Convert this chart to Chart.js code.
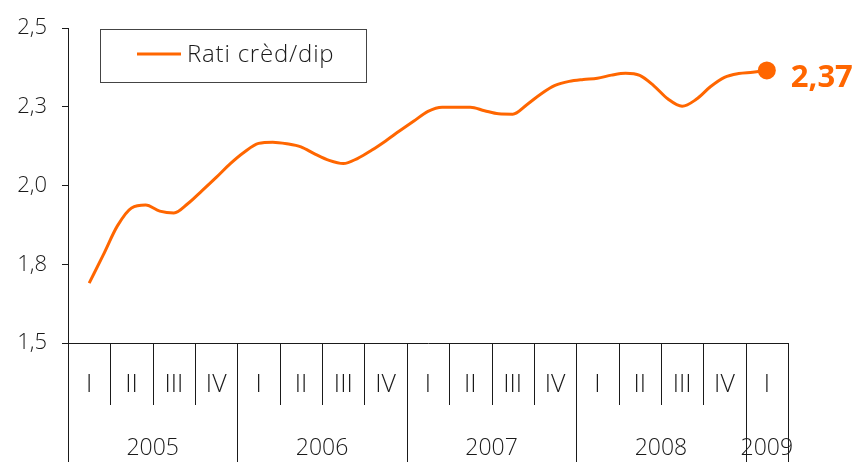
<!DOCTYPE html>
<html>
<head>
<meta charset="utf-8">
<script src="https://cdn.jsdelivr.net/npm/chart.js@4/dist/chart.umd.min.js"></script>
<style>
  html, body { margin: 0; padding: 0; background: #fff; }
  #wrap { width: 855px; height: 462px; position: relative; }
</style>
</head>
<body>
<div id="wrap"><canvas id="c" width="855" height="462"></canvas></div>
<script>
// ---- Data ----
const seriesLabel = 'Rati crèd/dip';
const quarterLabels = ['I','II','III','IV','I','II','III','IV','I','II','III','IV','I','II','III','IV','I'];
const yearLabels = ['2005','2006','2007','2008','2009'];
const yearQuarters = [4, 4, 4, 4, 1];
const firstMonth = 1; // Feb 2005 (month index from Jan 2005)
const ratio = [
  1.69, 1.78, 1.872, 1.929, 1.938, 1.919, 1.913, 1.943, 1.984, 2.026,
  2.070, 2.107, 2.134, 2.138, 2.133, 2.123, 2.100, 2.080, 2.070, 2.086,
  2.112, 2.142, 2.174, 2.205, 2.236, 2.249, 2.249, 2.249, 2.238, 2.228,
  2.227, 2.257, 2.291, 2.318, 2.331, 2.337, 2.341, 2.351, 2.357, 2.350,
  2.317, 2.275, 2.252, 2.274, 2.314, 2.344, 2.356, 2.360, 2.366
];
const yTicks = [1.5, 1.75, 2.0, 2.25, 2.5];

// ---- Styles ----
const ORANGE = '#FF6600';
const INK = '#1a1a1a';
const FONT = '"Open Sans", "Liberation Sans", sans-serif';
const totalMonths = quarterLabels.length * 3;

const points = ratio.map((v, i) => ({ x: firstMonth + i + 0.5, y: v }));
const lastIdx = ratio.length - 1;

const extras = {
  id: 'extras',
  afterDraw(chart) {
    const ctx = chart.ctx;
    const xs = chart.scales.x;
    const area = chart.chartArea;
    const H = chart.height;
    const base = area.bottom;
    ctx.save();
    ctx.strokeStyle = INK;
    ctx.lineWidth = 1;
    // x axis line
    ctx.beginPath();
    ctx.moveTo(Math.round(xs.getPixelForValue(0)) + 0.5, base + 0.5);
    ctx.lineTo(Math.round(xs.getPixelForValue(totalMonths)) + 0.5, base + 0.5);
    ctx.stroke();
    // quarter dividers & labels
    ctx.font = '300 25px ' + FONT;
    ctx.fillStyle = INK;
    ctx.textAlign = 'center';
    ctx.textBaseline = 'middle';
    for (let q = 0; q < quarterLabels.length; q++) {
      const x0 = xs.getPixelForValue(q * 3);
      const x1 = xs.getPixelForValue(q * 3 + 3);
      ctx.beginPath();
      ctx.moveTo(Math.round(x0) + 0.5, base);
      ctx.lineTo(Math.round(x0) + 0.5, base + 62);
      ctx.stroke();
      ctx.fillText(quarterLabels[q], (x0 + x1) / 2, base + 42);
    }
    // year dividers & labels
    ctx.font = '300 23px ' + FONT;
    let qStart = 0;
    for (let y = 0; y <= yearLabels.length; y++) {
      const xv = xs.getPixelForValue(qStart * 3);
      ctx.beginPath();
      ctx.moveTo(Math.round(xv) + 0.5, base);
      ctx.lineTo(Math.round(xv) + 0.5, H);
      ctx.stroke();
      if (y < yearLabels.length) {
        const xe = xs.getPixelForValue((qStart + yearQuarters[y]) * 3);
        ctx.fillText(yearLabels[y], (xv + xe) / 2, base + 105);
        qStart += yearQuarters[y];
      }
    }
    // legend box
    const lx = 100.5, ly = 29.5, lw = 266, lh = 53;
    ctx.strokeStyle = '#444';
    ctx.strokeRect(lx, ly, lw, lh);
    ctx.strokeStyle = ORANGE;
    ctx.lineWidth = 3;
    ctx.beginPath();
    ctx.moveTo(137, 54);
    ctx.lineTo(181, 54);
    ctx.stroke();
    ctx.fillStyle = INK;
    ctx.textAlign = 'left';
    ctx.font = '300 24px ' + FONT;
    ctx.letterSpacing = '0.8px';
    ctx.fillText(chart.data.datasets[0].label, 187, 55);
    ctx.letterSpacing = '0px';
    // data label on last point
    const meta = chart.getDatasetMeta(0);
    const pt = meta.data[lastIdx];
    ctx.fillStyle = ORANGE;
    ctx.font = 'bold 31px ' + FONT;
    ctx.textBaseline = 'middle';
    ctx.fillText(ratio[lastIdx].toFixed(2).replace('.', ','), pt.x + 24, pt.y + 8);
    ctx.restore();
  }
};

new Chart(document.getElementById('c'), {
  type: 'line',
  data: {
    datasets: [{
      label: seriesLabel,
      data: points,
      borderColor: ORANGE,
      backgroundColor: ORANGE,
      borderWidth: 3,
      cubicInterpolationMode: 'monotone',
      pointRadius: ctx => ctx.dataIndex === lastIdx ? 9 : 0,
      pointHoverRadius: 0,
      pointBackgroundColor: ORANGE,
      pointBorderWidth: 0,
      clip: false
    }]
  },
  options: {
    responsive: false,
    animation: false,
    devicePixelRatio: 1,
    layout: { padding: { left: 0, right: 67, top: 24, bottom: 119 } },
    plugins: { legend: { display: false }, tooltip: { enabled: false } },
    scales: {
      x: {
        type: 'linear',
        min: 0,
        max: totalMonths,
        display: false
      },
      y: {
        min: 1.5,
        max: 2.5,
        afterFit(scale) { scale.width = 68; },
        afterBuildTicks(scale) { scale.ticks = yTicks.map(v => ({ value: v })); },
        grid: {
          drawOnChartArea: false,
          tickLength: 6,
          color: INK
        },
        border: { display: true, color: INK, width: 1 },
        ticks: {
          padding: 15,
          color: INK,
          font: { family: FONT, size: 22, weight: '300' },
          callback: v => v.toFixed(1).replace('.', ',')
        }
      }
    }
  },
  plugins: [extras]
});
</script>
</body>
</html>
